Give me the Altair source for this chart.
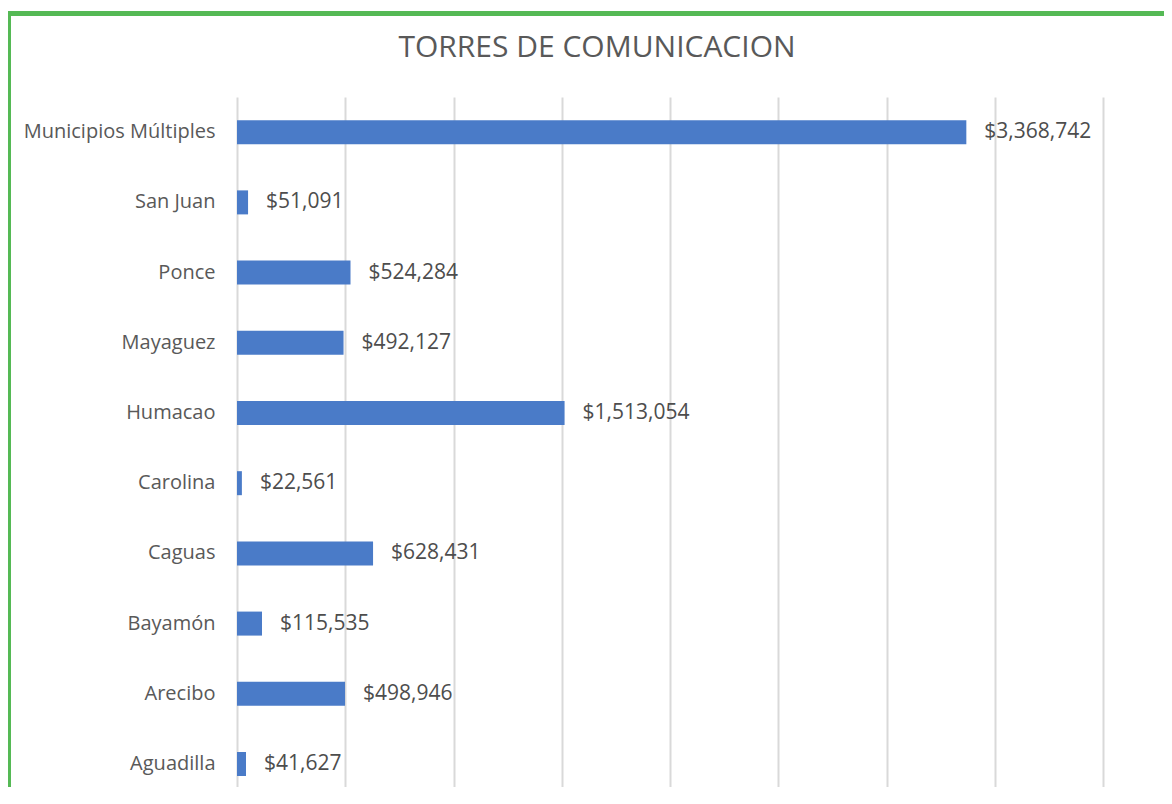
import altair as alt
import pandas as pd

categories = ["Municipios Múltiples", "San Juan", "Ponce", "Mayaguez", "Humacao",
              "Carolina", "Caguas", "Bayamón", "Arecibo", "Aguadilla"]
values = [3368742, 51091, 524284, 492127, 1513054, 22561, 628431, 115535, 498946, 41627]
labels = ["$3,368,742", "$51,091", "$524,284", "$492,127", "$1,513,054",
          "$22,561", "$628,431", "$115,535", "$498,946", "$41,627"]
grid_values = [0, 500000, 1000000, 1500000, 2000000, 2500000, 3000000, 3500000, 4000000]
title_text = "TORRES DE COMUNICACION"

df = pd.DataFrame({"cat": categories, "val": values, "lab": labels})

FONT = "Open Sans"
TXT = "#595959"
W = 866
H = 690          # drawn plot height (page is cut at the bottom)
PAD_L, PAD_T = 229, 89
TOTAL_W, TOTAL_H = 1156, 779

x_enc = alt.X("val:Q", scale=alt.Scale(domain=[0, 4000000], nice=False),
              axis=alt.Axis(values=grid_values, labels=False, ticks=False, domain=False,
                            title=None, grid=True, gridColor="#d9d9d9", gridWidth=2))
y_enc = alt.Y("cat:N", sort=categories,
              scale=alt.Scale(paddingInner=0.658, paddingOuter=0.2436, align=0.678),
              axis=alt.Axis(title=None, ticks=False, domain=False, labelPadding=22,
                            labelLimit=400,
                            labelFont=FONT, labelFontSize=20, labelColor=TXT, grid=False))

bars = alt.Chart(df).mark_bar(color="#4a7bc8").encode(x=x_enc, y=y_enc)
texts = alt.Chart(df).mark_text(align="left", baseline="middle", dx=18,
                                font=FONT, fontSize=21, color="#4d4d4d").encode(
    x="val:Q", y=alt.Y("cat:N", sort=categories), text="lab:N")

one = alt.Data(values=[{"t": title_text}])
title_mark = alt.Chart(one).mark_text(align="center", baseline="alphabetic", font=FONT,
                                      fontSize=30, color=TXT).encode(
    x=alt.value(597 - 8 - PAD_L), y=alt.value(57 - 8 - PAD_T), text="t:N")
border_v = alt.Chart(one).mark_rule(color="#55b955", strokeWidth=4).encode(
    x=alt.value(-PAD_L + 1), y=alt.value(-PAD_T + 3), y2=alt.value(H + 20))
border_h = alt.Chart(one).mark_rule(color="#55b955", strokeWidth=5).encode(
    x=alt.value(-PAD_L - 2), x2=alt.value(W + 80), y=alt.value(-PAD_T + 5.5))

chart = alt.layer(bars, texts, title_mark, border_v, border_h).properties(
    width=W, height=H,
    autosize=alt.AutoSizeParams(type="none"),
    padding={"left": PAD_L, "top": PAD_T, "right": TOTAL_W - PAD_L - W,
             "bottom": TOTAL_H - PAD_T - H},
).configure(background="white", view=alt.ViewConfig(stroke=None))

chart.save("out.html", embed_options={"renderer": "svg", "actions": False})
